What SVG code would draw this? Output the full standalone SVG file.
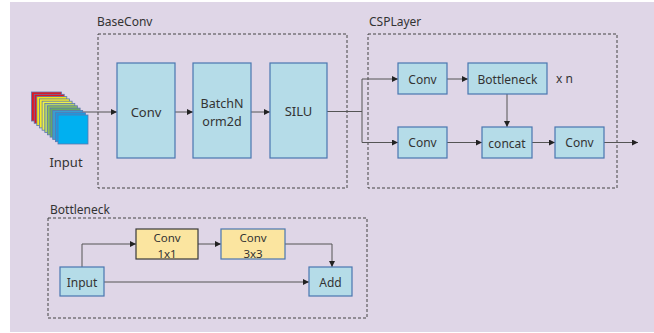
<svg xmlns="http://www.w3.org/2000/svg" width="654" height="333" viewBox="0 0 654 333">
  <style>
    text { font-family: "Noto Sans", "Open Sans", sans-serif; font-size: 12px; fill: #333; }
    .c { text-anchor: middle; dominant-baseline: central; }
    .frame { fill: none; stroke: #444; stroke-width: 1; stroke-dasharray: 3 2; }
    .blk { fill: #b5dce8; stroke: #4a76b0; stroke-width: 1.2; }
    .yel { fill: #fbe5a0; stroke: #4a76b0; stroke-width: 1.2; }
    .yel.dark { stroke: #3a3a3a; }
    .wire { fill: none; stroke: #555; stroke-width: 1; }
    .arr { marker-end: url(#ah); }
    .layer { stroke: #5a78b0; stroke-width: 0.8; }
  </style>
  <defs>
    <marker id="ah" markerWidth="6" markerHeight="6" refX="6" refY="3" orient="auto" markerUnits="userSpaceOnUse">
      <path d="M0,0 L6,3 L0,6 z" fill="#222"/>
    </marker>
  </defs>

  <!-- canvas -->
  <rect x="0" y="0" width="654" height="333" fill="#ffffff"/>
  <rect x="10" y="2" width="644" height="330" fill="#dfd6e7"/>

  <!-- frames -->
  <g id="baseconv-frame">
    <rect class="frame" x="98" y="34" width="249" height="154"/>
    <text x="97" y="26">BaseConv</text>
  </g>
  <g id="csplayer-frame">
    <rect class="frame" x="368" y="34" width="249" height="154"/>
    <text x="369" y="26">CSPLayer</text>
  </g>
  <g id="bottleneck-frame">
    <rect class="frame" x="48" y="218" width="319" height="100"/>
    <text x="50" y="214">Bottleneck</text>
  </g>

  <!-- connectors -->
  <g id="connectors">
    <path class="wire arr" d="M70,112 H117"/>
    <path class="wire arr" d="M175,112 H193"/>
    <path class="wire arr" d="M251,112 H270"/>
    <path class="wire" d="M327,111.5 H362"/>
    <path class="wire arr" d="M362,79 V142.5 H398"/>
    <path class="wire arr" d="M362,79 H398"/>
    <path class="wire arr" d="M447,79 H468"/>
    <path class="wire arr" d="M507,94 V127"/>
    <path class="wire arr" d="M447,142.5 H482"/>
    <path class="wire arr" d="M532,142.5 H555"/>
    <path class="wire arr" d="M604,142.5 H638"/>
    <path class="wire arr" d="M82,267 V244 H136"/>
    <path class="wire arr" d="M198,244 H221"/>
    <path class="wire arr" d="M285,244 H332 V267"/>
    <path class="wire arr" d="M104,282 H309"/>
  </g>

  <!-- input tensor stack -->
  <g id="input">
    <rect class="layer" x="31.5" y="92" width="30" height="29" fill="#e3141e"/>
    <rect class="layer" x="34.2" y="94.3" width="30" height="29" fill="#e3141e"/>
    <rect class="layer" x="36.8" y="96.6" width="30" height="29" fill="#f2e41a"/>
    <rect class="layer" x="39.5" y="98.9" width="30" height="29" fill="#f6ec2c"/>
    <rect class="layer" x="42.1" y="101.2" width="30" height="29" fill="#eef04a"/>
    <rect class="layer" x="44.8" y="103.5" width="30" height="29" fill="#b6d46a"/>
    <rect class="layer" x="47.4" y="105.8" width="30" height="29" fill="#8cbc58"/>
    <rect class="layer" x="50.1" y="108.1" width="30" height="29" fill="#66a866"/>
    <rect class="layer" x="52.7" y="110.4" width="30" height="29" fill="#3a9ed0"/>
    <rect class="layer" x="55.4" y="112.7" width="30" height="29" fill="#1a9ae0"/>
    <rect class="layer" x="58" y="115" width="30" height="29" fill="#00b0f0"/>
    <text class="c" x="66" y="162" style="font-size:13px">Input</text>
  </g>

  <!-- BaseConv -->
  <g id="base-conv">
    <rect class="blk" x="117" y="63" width="58" height="95"/>
    <text class="c" x="146" y="112" style="font-size:13px">Conv</text>
  </g>
  <g id="base-bn">
    <rect class="blk" x="193" y="63" width="58" height="95"/>
    <text class="c" x="222" y="103" style="font-size:12.5px">BatchN</text>
    <text class="c" x="222" y="121" style="font-size:12.5px">orm2d</text>
  </g>
  <g id="base-silu">
    <rect class="blk" x="270" y="63" width="57" height="95"/>
    <text class="c" x="298.5" y="111" style="font-size:13px">SILU</text>
  </g>

  <!-- CSPLayer -->
  <g id="csp-conv-top">
    <rect class="blk" x="398" y="63" width="49" height="31"/>
    <text class="c" x="422.5" y="79">Conv</text>
  </g>
  <g id="csp-bottleneck">
    <rect class="blk" x="468" y="63" width="79" height="31"/>
    <text class="c" x="507.5" y="79">Bottleneck</text>
  </g>
  <g id="csp-xn">
    <text x="556" y="83">x n</text>
  </g>
  <g id="csp-conv-bottom">
    <rect class="blk" x="398" y="127" width="49" height="31"/>
    <text class="c" x="422.5" y="142.5">Conv</text>
  </g>
  <g id="csp-concat">
    <rect class="blk" x="482" y="127" width="50" height="31"/>
    <text class="c" x="507" y="143">concat</text>
  </g>
  <g id="csp-conv-out">
    <rect class="blk" x="555" y="127" width="49" height="31"/>
    <text class="c" x="579.5" y="142.5">Conv</text>
  </g>

  <!-- Bottleneck detail -->
  <g id="bn-input">
    <rect class="blk" x="60" y="267" width="44" height="29"/>
    <text class="c" x="82" y="282">Input</text>
  </g>
  <g id="bn-conv1">
    <rect class="yel dark" x="136" y="229" width="62" height="30"/>
    <text class="c" x="167" y="237" style="font-size:11.5px">Conv</text>
    <text class="c" x="167" y="253" style="font-size:11.5px">1x1</text>
  </g>
  <g id="bn-conv3">
    <rect class="yel" x="221" y="229" width="64" height="30"/>
    <text class="c" x="253" y="237" style="font-size:11.5px">Conv</text>
    <text class="c" x="253" y="253" style="font-size:11.5px">3x3</text>
  </g>
  <g id="bn-add">
    <rect class="blk" x="309" y="267" width="43" height="29"/>
    <text class="c" x="330.5" y="282">Add</text>
  </g>
</svg>
